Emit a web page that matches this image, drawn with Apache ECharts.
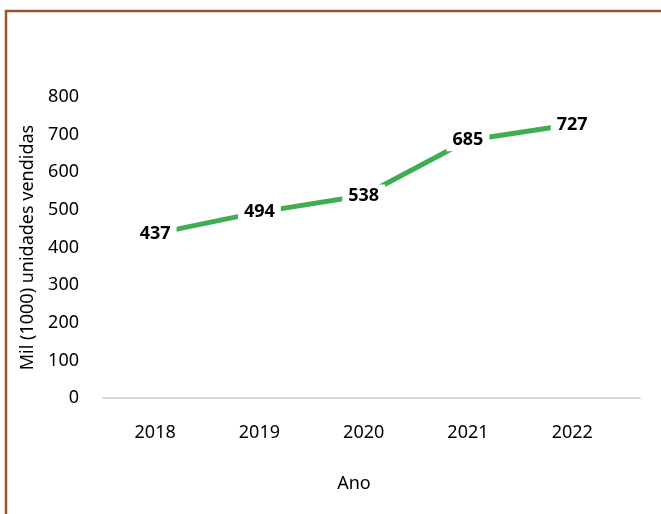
<!DOCTYPE html>
<html>
<head>
<meta charset="utf-8">
<script src="https://cdn.jsdelivr.net/npm/echarts@6/dist/echarts.min.js"></script>
<style>
  html, body { margin: 0; padding: 0; background: #fff; }
  #chart { width: 661px; height: 514px; }
</style>
</head>
<body>
<div id="chart"></div>
<script>
// Annual sales, thousands of units
const years = [2018, 2019, 2020, 2021, 2022];
const sales = [437, 494, 538, 685, 727];
const yTicks = [0, 100, 200, 300, 400, 500, 600, 700, 800];

const FONT = '"Noto Sans", "Open Sans", sans-serif';
const chart = echarts.init(document.getElementById('chart'));

chart.setOption({
  backgroundColor: '#ffffff',
  animation: false,
  graphic: [{
    type: 'rect',
    shape: { x: 6, y: 11, width: 800, height: 700 },
    style: { fill: 'none', stroke: '#a0522d', lineWidth: 2.5 },
    silent: true
  }],
  title: {
    text: 'Ano',
    left: 349,
    top: 470,
    textAlign: 'center',
    textStyle: { fontFamily: FONT, fontSize: 18, fontWeight: 'normal', color: '#000' }
  },
  grid: { left: 103, right: 21, top: 97, bottom: 116, containLabel: false },
  xAxis: {
    type: 'value',
    min: 2017.5,
    max: 2022.65,
    interval: 0.5,
    axisLine: { show: true, lineStyle: { color: '#d9d9d9', width: 2 } },
    axisTick: { show: false },
    splitLine: { show: false },
    axisLabel: {
      margin: 26,
      fontFamily: FONT,
      fontSize: 18,
      color: '#000',
      showMinLabel: false,
      showMaxLabel: false,
      formatter: v => (years.includes(v) ? String(v) : '')
    }
  },
  yAxis: {
    type: 'value',
    min: yTicks[0],
    max: yTicks[yTicks.length - 1],
    interval: 100,
    name: 'Mil (1000) unidades vendidas',
    nameLocation: 'middle',
    nameGap: 62,
    nameTextStyle: { fontFamily: FONT, fontSize: 18, color: '#000' },
    axisLine: { show: false },
    axisTick: { show: false },
    splitLine: { show: false },
    axisLabel: { margin: 24, fontFamily: FONT, fontSize: 18, color: '#000' }
  },
  series: [{
    type: 'line',
    data: years.map((y, i) => [y, sales[i]]),
    symbol: 'circle',
    symbolSize: 1,
    showSymbol: true,
    itemStyle: { color: 'rgba(0,0,0,0)' },
    lineStyle: { color: '#3fae52', width: 5 },
    label: {
      show: true,
      position: 'inside',
      align: 'center',
      verticalAlign: 'middle',
      formatter: p => String(p.value[1]),
      fontFamily: FONT,
      fontSize: 18,
      fontWeight: 'bold',
      color: '#000',
      backgroundColor: '#ffffff',
      padding: [2, 6]
    },
    z: 3
  }]
});
</script>
</body>
</html>
